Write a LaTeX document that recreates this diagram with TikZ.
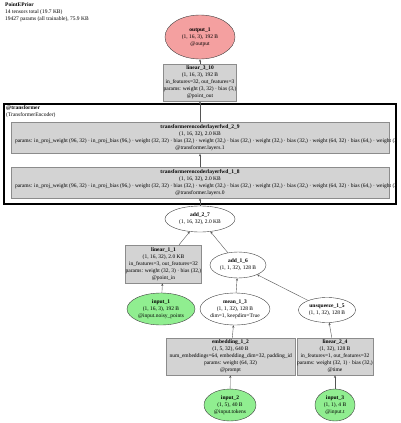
\documentclass[tikz,border=0pt]{standalone}
\usepackage{fontspec}
\setmainfont{Liberation Serif}
\usetikzlibrary{shapes.geometric,arrows.meta}
\definecolor{boxfill}{HTML}{D3D3D3}
\definecolor{boxline}{HTML}{8C8C8C}
\definecolor{infill}{HTML}{90EE90}
\definecolor{outfill}{HTML}{F4A0A0}
\definecolor{edgecol}{HTML}{555555}
\begin{document}
\begin{tikzpicture}[x=1pt,y=-1pt,
  font=\fontsize{5.5}{7}\selectfont,
  every node/.style={align=center, inner sep=0pt},
  sz/.style 2 args={minimum width=#1pt, minimum height=#2pt},
  layerbox/.style={rectangle, draw=boxline, fill=boxfill, line width=0.6pt},
  opoval/.style={ellipse, draw=black!75, fill=white, line width=0.4pt},
  inoval/.style={ellipse, draw=black!75, fill=infill, line width=0.4pt},
  outoval/.style={ellipse, draw=black!75, fill=outfill, line width=0.4pt},
  edge/.style={draw=edgecol, line width=0.4pt, -{Stealth[length=2.6pt,width=2.2pt]}}]
\useasboundingbox (0,0) rectangle (400,423);

\node[anchor=north west, align=left] (hdr) at (5,2)
  {\textbf{PointEPrior}\\14 tensors total (19.7 KB)\\19427 params (all trainable), 75.9 KB};

\node[outoval, sz={70}{44}] (output_1) at (200,37)
  {\textbf{output\_1}\\(1, 16, 3), 192 B\\@output};
\node[layerbox, sz={72}{37}] (linear_3_10) at (200,82.5)
  {\textbf{linear\_3\_10}\\(1, 16, 3), 192 B\\in\_features=32, out\_features=3\\params: weight (3, 32) · bias (3,)\\@point\_out};

\node[layerbox, sz={378}{31}] (tel_2_9) at (200,138)
  {\textbf{transformerencoderlayerfwd\_2\_9}\\(1, 16, 32), 2.0 KB\\\makebox[370pt][l]{params: in\_proj\_weight (96, 32) · in\_proj\_bias (96,) · weight (32, 32) · bias (32,) · weight (32,) · bias (32,) · weight (32,) · bias (32,) · weight (64, 32) · bias (64,) · weight (3}\\@transformer.layers.1};
\node[layerbox, sz={378}{31}] (tel_1_8) at (200,182.5)
  {\textbf{transformerencoderlayerfwd\_1\_8}\\(1, 16, 32), 2.0 KB\\\makebox[370pt][l]{params: in\_proj\_weight (96, 32) · in\_proj\_bias (96,) · weight (32, 32) · bias (32,) · weight (32,) · bias (32,) · weight (32,) · bias (32,) · weight (64, 32) · bias (64,) · weight (3}\\@transformer.layers.0};
\node[draw=black, line width=1.6pt, sz={392}{100}] (cluster) at (200,154) {};
\node[anchor=north west, align=left] (cluster_label) at (6,105)
  {\textbf{@transformer}\\(TransformerEncoder)};

\node[opoval, sz={70}{26}] (add_2_7) at (200,219)
  {\textbf{add\_2\_7}\\(1, 16, 32), 2.0 KB};
\node[layerbox, sz={73}{38}] (linear_1_1) at (163.5,264)
  {\textbf{linear\_1\_1}\\(1, 16, 32), 2.0 KB\\in\_features=3, out\_features=32\\params: weight (32, 3) · bias (32,)\\@point\_in};
\node[opoval, sz={56}{26}] (add_1_6) at (238,265)
  {\textbf{add\_1\_6}\\(1, 1, 32), 128 B};
\node[inoval, sz={68}{32}] (input_1) at (161,309)
  {\textbf{input\_1}\\(1, 16, 3), 192 B\\@input.noisy\_points};
\node[opoval, sz={67}{32}] (mean_1_3) at (235,309)
  {\textbf{mean\_1\_3}\\(1, 1, 32), 128 B\\dim=1, keepdim=True};
\node[opoval, sz={57}{25}] (unsqueeze_1_5) at (327,310)
  {\textbf{unsqueeze\_1\_5}\\(1, 1, 32), 128 B};
\node[layerbox, sz={129}{37}] (embedding_1_2) at (230.5,356.5)
  {\textbf{embedding\_1\_2}\\(1, 5, 32), 640 B\\\makebox[122pt][l]{num\_embeddings=64, embedding\_dim=32, padding\_id}\\params: weight (64, 32)\\@prompt};
\node[layerbox, sz={74}{37}] (linear_2_4) at (335,356.5)
  {\textbf{linear\_2\_4}\\(1, 32), 128 B\\in\_features=1, out\_features=32\\params: weight (32, 1) · bias (32,)\\@time};
\node[inoval, sz={52}{32}] (input_2) at (230,405)
  {\textbf{input\_2}\\(1, 5), 40 B\\@input.tokens};
\node[inoval, sz={40}{32}] (input_3) at (335,405)
  {\textbf{input\_3}\\(1, 1), 4 B\\@input.t};

\draw[edge] (linear_3_10) -- (output_1);
\draw[edge] (tel_2_9) -- (linear_3_10);
\draw[edge] (tel_1_8) -- (tel_2_9);
\draw[edge] (add_2_7) -- (tel_1_8);
\draw[edge] (linear_1_1) -- (add_2_7);
\draw[edge] (add_1_6) -- (add_2_7);
\draw[edge] (input_1) -- (linear_1_1);
\draw[edge] (mean_1_3) -- (add_1_6);
\draw[edge] (unsqueeze_1_5) -- (add_1_6);
\draw[edge] (embedding_1_2) -- (mean_1_3);
\draw[edge] (linear_2_4) -- (unsqueeze_1_5);
\draw[edge] (input_2) -- (embedding_1_2);
\draw[edge] (input_3) -- (linear_2_4);
\end{tikzpicture}
\end{document}
